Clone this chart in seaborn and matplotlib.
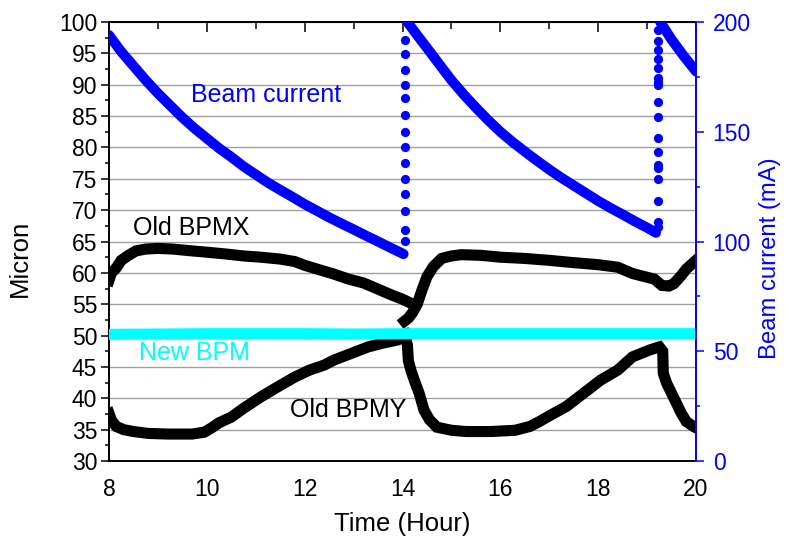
import matplotlib
matplotlib.use("Agg")
import matplotlib.pyplot as plt
from matplotlib.ticker import MultipleLocator
import numpy as np
import pandas as pd
import seaborn as sns

# ---------------- data ----------------
# Old BPMX, before and after the 14 h injection
bpmx1_t = [8.0, 8.05, 8.15, 8.25, 8.4, 8.55, 8.75, 9.0, 9.3, 9.7, 10.0, 10.4, 10.75, 11.1,
           11.5, 11.8, 12.0, 12.3, 12.6, 12.9, 13.2, 13.5, 13.8, 14.0, 14.08]
bpmx1_v = [58.8, 60.0, 60.8, 62.0, 62.8, 63.5, 63.8, 63.9, 63.8, 63.5, 63.3, 63.0, 62.7, 62.5,
           62.2, 61.8, 61.2, 60.5, 59.8, 59.0, 58.4, 57.4, 56.4, 55.8, 55.5]
bpmx2_t = [14.04, 14.12, 14.2, 14.3, 14.4, 14.5, 14.63, 14.8, 15.0, 15.2, 15.6, 16.0, 16.5,
           17.0, 17.4, 17.7, 18.0, 18.4, 18.7, 19.0, 19.15, 19.3, 19.45, 19.55, 19.7, 19.8,
           19.9, 20.0]
bpmx2_v = [52.3, 52.8, 53.6, 55.0, 57.3, 59.4, 61.0, 62.3, 62.7, 62.9, 62.8, 62.5, 62.3,
           62.0, 61.7, 61.5, 61.3, 60.9, 59.9, 59.3, 59.0, 58.0, 57.9, 58.3, 59.6, 60.6,
           61.3, 62.0]

bpmy_t = [8.0, 8.05, 8.15, 8.3, 8.5, 8.8, 9.2, 9.7, 9.95, 10.1, 10.25, 10.5, 10.75, 11.1,
          11.4, 11.8, 12.1, 12.4, 12.6, 12.9, 13.3, 13.6, 13.9, 14.05, 14.1, 14.12, 14.17,
          14.24, 14.34, 14.44, 14.55, 14.7, 15.0, 15.3, 15.8, 16.3, 16.6, 16.8, 17.0, 17.35,
          17.7, 18.05, 18.4, 18.7, 19.05, 19.25, 19.32, 19.33, 19.4, 19.5, 19.6, 19.7, 19.8,
          19.95, 20.0]
bpmy_v = [37.6, 36.5, 35.5, 35.0, 34.7, 34.4, 34.3, 34.3, 34.6, 35.3, 36.1, 37.0, 38.4, 40.2,
          41.6, 43.4, 44.5, 45.3, 46.1, 47.0, 48.2, 48.8, 49.3, 50.0, 48.5, 46.0, 44.5,
          42.9, 40.8, 38.1, 36.6, 35.4, 34.9, 34.7, 34.7, 34.9, 35.5, 36.3, 37.2, 38.7,
          40.8, 42.9, 44.5, 46.6, 47.7, 48.2, 47.5, 44.0, 42.4, 40.8, 39.2, 37.6, 36.3,
          35.5, 35.3]

newbpm_t = [8, 9, 10, 11, 12, 13, 14, 15, 16, 17, 18, 19, 20]
newbpm_v = [50.2, 50.25, 50.3, 50.3, 50.3, 50.25, 50.3, 50.3, 50.3, 50.3, 50.3, 50.3, 50.3]

cur1_t = [8.0, 8.25, 8.5, 8.75, 9.0, 9.25, 9.5, 9.75, 10.0, 10.25, 10.5, 10.75, 11.0,
          11.25, 11.5, 11.75, 12.0, 12.25, 12.5, 12.75, 13.0, 13.25, 13.5, 13.75, 14.02]
cur1_v = [194, 186.5, 180, 173.5, 167.5, 162, 156.5, 151.5, 147, 142.5, 138.5, 134.2, 130.5,
          126.8, 123.5, 120.3, 117, 114, 111, 108.2, 105.5, 102.7, 100, 97.2, 94.3]
inj1_t = 14.05
inj1_v = [100.4, 105.2, 114.0, 121.6, 128.5, 135.6, 143.2, 150.0, 157.5, 165.2, 171.3,
          178.3, 185.3, 191.8]
cur2_t = [14.1, 14.3, 14.5, 14.75, 15.0, 15.25, 15.5, 15.75, 16.0, 16.25, 16.5, 16.75,
          17.0, 17.25, 17.5, 17.75, 18.0, 18.25, 18.5, 18.75, 19.0, 19.18]
cur2_v = [200, 194, 188.2, 180.8, 173.5, 167, 161, 155.3, 150, 145.3, 141, 136.8,
          132.8, 129, 125.5, 122, 118.5, 115.3, 112.3, 109.2, 106.3, 104]
inj2_t = 19.22
inj2_v = [106.7, 109.0, 118.5, 128.3, 133.4, 134.9, 140.9, 147.3, 156.6, 163.7, 171.3,
          172.9, 174.4, 179.0, 183.0, 187.2, 191.5, 196.4]
cur3_t = [19.27, 19.5, 19.75, 20.0]
cur3_v = [200, 192, 184.5, 177.5]

# ---------------- style ----------------
sns.set_style("white")
plt.rcParams['font.family'] = ['Liberation Sans', 'DejaVu Sans']
plt.rcParams['text.color'] = 'black'
plt.rcParams['axes.labelcolor'] = 'black'
plt.rcParams['xtick.color'] = 'black'
plt.rcParams['ytick.color'] = 'black'

BLUE = '#0000FF'
CYAN = '#00FFFF'

fig = plt.figure(figsize=(7.87, 5.45), dpi=100)
ax = fig.add_axes([0.1385, 0.1541, 0.7459, 0.8055])
ax2 = ax.twinx()

# grid
ax.set_axisbelow(True)
ax.yaxis.grid(True, color='#a0a0a0', lw=1.0)
ax.xaxis.grid(False)

# old BPMs (black squares, dense -> solid band)
for tt, vv in ((bpmx1_t, bpmx1_v), (bpmx2_t, bpmx2_v), (bpmy_t, bpmy_v)):
    df = pd.DataFrame({'t': tt, 'v': vv})
    sns.lineplot(data=df, x='t', y='v', ax=ax, color='black', lw=8.0, sort=False,
                 estimator=None, solid_capstyle='projecting', solid_joinstyle='miter',
                 zorder=2)

# new BPM (cyan)
dfn = pd.DataFrame({'t': newbpm_t, 'v': newbpm_v})
sns.lineplot(data=dfn, x='t', y='v', ax=ax, color=CYAN, lw=8.0, sort=False,
             estimator=None, solid_capstyle='butt', zorder=3)

# beam current (right axis)
for tt, vv in ((cur1_t, cur1_v), (cur2_t, cur2_v), (cur3_t, cur3_v)):
    dfc = pd.DataFrame({'t': tt, 'v': vv})
    sns.lineplot(data=dfc, x='t', y='v', ax=ax2, color=BLUE, lw=7.3, sort=False,
                 estimator=None, solid_capstyle='round', zorder=3)
dfi = pd.DataFrame({'t': [inj1_t] * len(inj1_v) + [inj2_t] * len(inj2_v),
                    'v': inj1_v + inj2_v})
sns.scatterplot(data=dfi, x='t', y='v', ax=ax2, color=BLUE, s=44, linewidth=0, zorder=3)

ax.set_xlim(8, 20)
ax.set_ylim(30, 100)
ax2.set_xlim(8, 20)
ax2.set_ylim(0, 200)

# ticks
ax.xaxis.set_major_locator(MultipleLocator(2))
ax.xaxis.set_minor_locator(MultipleLocator(1))
ax.yaxis.set_major_locator(MultipleLocator(5))
ax.yaxis.set_minor_locator(MultipleLocator(2.5))
ax2.yaxis.set_major_locator(MultipleLocator(50))
ax2.yaxis.set_minor_locator(MultipleLocator(25))

ax.tick_params(axis='both', which='major', direction='out', length=6, width=1.1,
               labelsize=16.5, color='black', labelcolor='black')
ax.tick_params(axis='both', which='minor', direction='out', length=3.2, width=1.1)
ax.tick_params(axis='x', which='major', pad=6)
ax.tick_params(axis='y', which='major', pad=2.5)
ax.tick_params(right=False, which='both')
ax2.tick_params(axis='y', which='major', direction='out', length=6, width=1.1,
                labelsize=16.5, color=BLUE, labelcolor=BLUE, pad=6)
ax2.tick_params(axis='y', which='minor', direction='out', length=3.2, width=1.1, color=BLUE)

# top axis with inward ticks
sec = ax.secondary_xaxis('top')
sec.xaxis.set_major_locator(MultipleLocator(2))
sec.xaxis.set_minor_locator(MultipleLocator(1))
sec.tick_params(axis='x', which='major', direction='in', length=7, width=1.1, labeltop=False)
sec.tick_params(axis='x', which='minor', direction='in', length=5, width=1.1)
sec.spines['top'].set_linewidth(1.4)

for name in ('left', 'bottom', 'top'):
    ax.spines[name].set_linewidth(1.4)
    ax.spines[name].set_color('black')
ax.spines['right'].set_visible(False)
for name in ('left', 'bottom', 'top'):
    ax2.spines[name].set_visible(False)
ax2.spines['right'].set_color(BLUE)
ax2.spines['right'].set_linewidth(1.4)

ax.set_xlabel('Time (Hour)', fontsize=18.5)
ax.set_ylabel('Micron', fontsize=18.5)
ax2.set_ylabel('Beam current (mA)', fontsize=17.2, color=BLUE)
ax.xaxis.set_label_coords(0.5, -0.115)
ax.yaxis.set_label_coords(-0.131, 0.462)
ax2.yaxis.set_label_coords(1.108, 0.462)

# annotations
ax.text(11.21, 88.4, 'Beam current', color=BLUE, fontsize=18, ha='center', va='center')
ax.text(9.68, 67.2, 'Old BPMX', color='black', fontsize=18, ha='center', va='center')
ax.text(9.74, 47.2, 'New BPM', color=CYAN, fontsize=18, ha='center', va='center')
ax.text(12.89, 38.1, 'Old BPMY', color='black', fontsize=18, ha='center', va='center')

fig.savefig('out.png', dpi=100)
